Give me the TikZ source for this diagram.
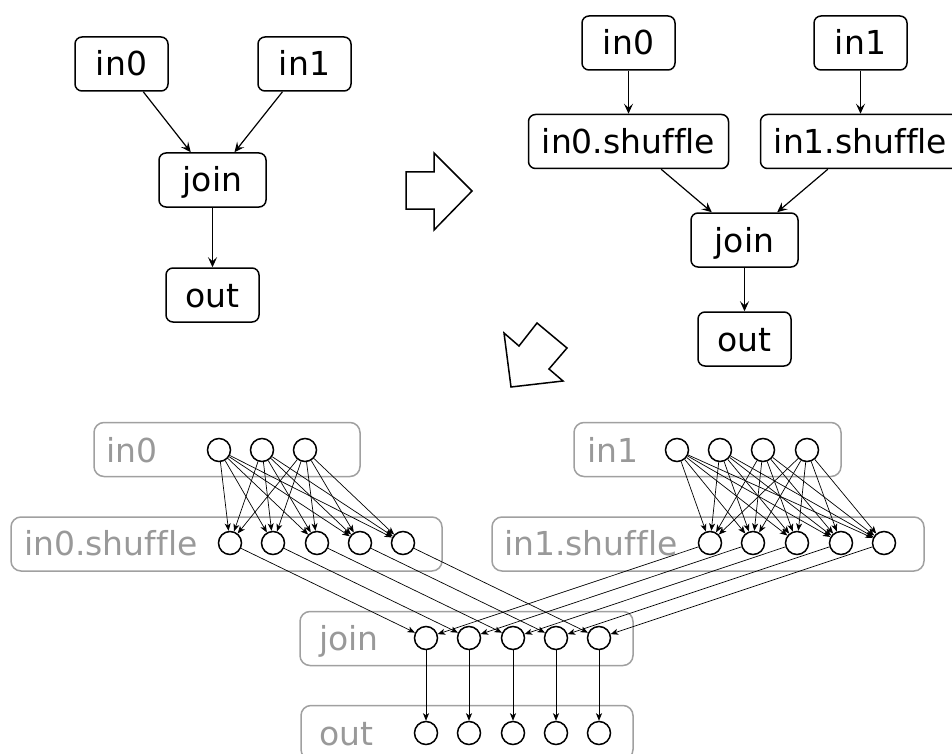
\documentclass[tikz,border=0pt]{standalone}
\usepackage{fontspec}
\setmainfont{DejaVu Sans}[Ligatures=NoCommon]
\usetikzlibrary{arrows.meta}
\definecolor{grpline}{HTML}{A0A0A0}
\definecolor{grptext}{HTML}{999999}
\tikzset{
  lbl/.style={font=\fontsize{33}{40}\selectfont, text height=24pt, text depth=0pt, inner sep=0pt},
  topbox/.style={lbl, draw, rounded corners=7pt, line width=1.5pt, minimum height=54pt},
  grpbox/.style={draw=grpline, rounded corners=10pt, line width=1.5pt, minimum height=54pt, inner sep=0pt},
  grplabel/.style={font=\fontsize{33}{40}\selectfont, text=grptext, anchor=base west, inner sep=0pt},
  dot/.style={circle, draw, line width=1.5pt, minimum size=23pt, inner sep=0pt},
  toplink/.style={line width=1.2pt, -{Stealth[length=10pt, width=9pt, inset=4pt]}},
  link/.style={line width=0.7pt, -{Stealth[length=7.5pt, width=6pt, inset=2pt]}},
  bigarrow/.style={draw, line width=1.5pt, line join=miter}
}
\begin{document}
\begin{tikzpicture}[x=1pt, y=-1pt]
\useasboundingbox (0,0) rectangle (952,754);
\clip (0,0) rectangle (952,754);

% logical plan
\node[topbox, minimum width=93pt]  (a0)   at (121.5,64)  {in0};
\node[topbox, minimum width=93pt]  (a1)   at (304.5,64)  {in1};
\node[topbox, minimum width=107pt] (aj)   at (212.5,180) {join};
\node[topbox, minimum width=93pt]  (aout) at (212.5,295) {out};
\draw[toplink] (a0) -- (aj);
\draw[toplink] (a1) -- (aj);
\draw[toplink] (aj) -- (aout);

% plan with shuffles inserted
\node[topbox, minimum width=93pt]  (b0)   at (628.5,43)   {in0};
\node[topbox, minimum width=93pt]  (b1)   at (860.5,43)   {in1};
\node[topbox, minimum width=200pt] (bs0)  at (628.5,141.5)  {in0.shuffle};
\node[topbox, minimum width=200pt] (bs1)  at (860.5,141.5)  {in1.shuffle};
\node[topbox, minimum width=107pt] (bj)   at (744.5,240)  {join};
\node[topbox, minimum width=93pt]  (bout) at (744.5,339)  {out};
\draw[toplink] (b0) -- (bs0);
\draw[toplink] (b1) -- (bs1);
\draw[toplink] (bs0) -- (bj);
\draw[toplink] (bs1) -- (bj);
\draw[toplink] (bj) -- (bout);

% transformation arrows
\draw[bigarrow] (406,172) -- (434,172) -- (434,153) -- (472,191) -- (434,230) -- (434,209) -- (406,209) -- cycle;
\draw[bigarrow] (511,387) -- (504,333) -- (519,346) -- (537,323) -- (567,348) -- (549,369) -- (563,381) -- cycle;

% physical plan: stage boxes
\node[grpbox, minimum width=266pt] (g0)   at (227,449.5) {};
\node[grpbox, minimum width=431pt] (gs0)  at (226.5,544) {};
\node[grpbox, minimum width=267pt] (g1)   at (707.5,449.5) {};
\node[grpbox, minimum width=432pt] (gs1)  at (708,544) {};
\node[grpbox, minimum width=333pt] (gj)   at (466.5,638.5) {};
\node[grpbox, minimum width=332pt] (gout) at (467,732.5) {};
\node[grplabel] (t0)   at (106,462) {in0};
\node[grplabel] (ts0)  at (24,555)  {in0.shuffle};
\node[grplabel] (t1)   at (587,462) {in1};
\node[grplabel] (ts1)  at (504,555) {in1.shuffle};
\node[grplabel] (tj)   at (319,650) {join};
\node[grplabel] (tout) at (319,745) {out};

% physical plan: tasks
\foreach \x [count=\i] in {219,262,305} \node[dot] (p\i) at (\x,450) {};
\foreach \x [count=\i] in {230,273,317,360,403} \node[dot] (q\i) at (\x,543) {};
\foreach \x [count=\i] in {677,720,763,807} \node[dot] (r\i) at (\x,450) {};
\foreach \x [count=\i] in {710,753,797,841,884} \node[dot] (s\i) at (\x,543) {};
\foreach \x [count=\i] in {426,469,513,556,599} \node[dot] (j\i) at (\x,638) {};
\foreach \x [count=\i] in {426,469,513,556,599} \node[dot] (o\i) at (\x,733) {};

% physical plan: data flow
\foreach \i in {1,2,3} \foreach \k in {1,...,5} \draw[link] (p\i) -- (q\k);
\foreach \i in {1,...,4} \foreach \k in {1,...,5} \draw[link] (r\i) -- (s\k);
\foreach \k in {1,...,5} {
  \draw[link] (q\k) -- (j\k);
  \draw[link] (s\k) -- (j\k);
  \draw[link] (j\k) -- (o\k);
}
\end{tikzpicture}
\end{document}
